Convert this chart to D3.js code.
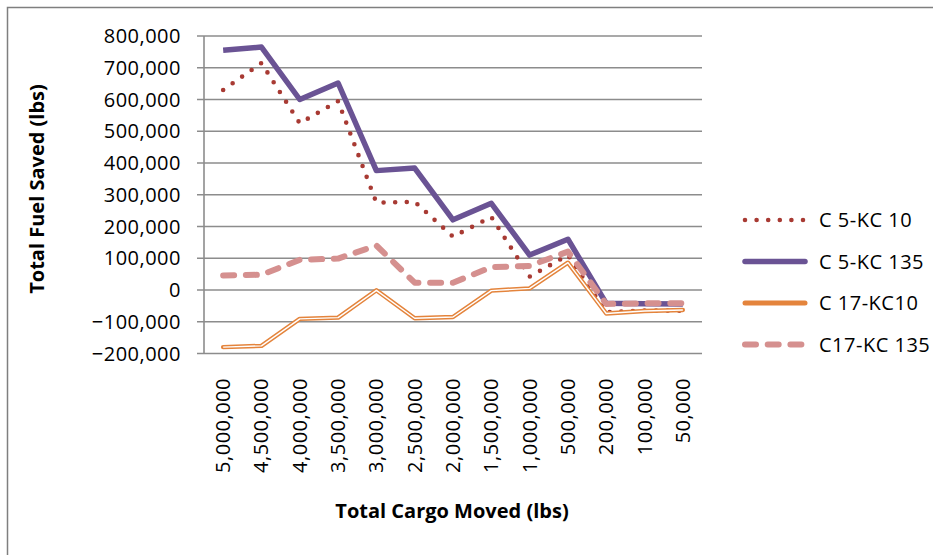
<!DOCTYPE html>
<html lang="en">

<head>
    <meta charset="UTF-8">
    <title>Total Fuel Saved vs Total Cargo Moved</title>
    <style>
        body {
            margin: 0;
            padding: 0;
            background: white;
            font-family: "Open Sans", Arial, sans-serif;
        }

        .tick-label {
            font-size: 20px;
            letter-spacing: 0.5px;
            fill: #000;
        }

        .axis-title {
            font-size: 20px;
            font-weight: 700;
            fill: #000;
        }

        .grid line {
            stroke: #8c8c8c;
            stroke-width: 1.6;
        }
    </style>
</head>

<body>
    <svg id="chart"></svg>

    <script src="https://cdnjs.cloudflare.com/ajax/libs/d3/7.9.0/d3.min.js"></script>
    <script>
        // categories (total cargo moved, lbs)
        const cargo = ['5,000,000', '4,500,000', '4,000,000', '3,500,000', '3,000,000', '2,500,000',
            '2,000,000', '1,500,000', '1,000,000', '500,000', '200,000', '100,000', '50,000'];

        // total fuel saved (lbs) per series
        const c5kc10 = [630000, 715000, 525000, 595000, 275000, 278000, 168000, 230000, 42000, 110000, -70000, -65000, -65000];
        const c5kc135 = [755000, 765000, 600000, 652000, 376000, 384000, 221000, 273000, 110000, 160000, -42000, -43000, -44000];
        const c17kc10 = [-180000, -176000, -91000, -87000, -1000, -89000, -85000, -2000, 5000, 86000, -74000, -66000, -63000];
        const c17kc135 = [46000, 48000, 95000, 99000, 140000, 23000, 23000, 72000, 76000, 121000, -44000, -42000, -42000];

        const seriesNames = ['C 5-KC 10', 'C 5-KC 135', 'C 17-KC10', 'C17-KC 135'];
        const yTicks = [-200000, -100000, 0, 100000, 200000, 300000, 400000, 500000, 600000, 700000, 800000];

        const width = 933;
        const height = 555;
        const margin = { left: 204, right: 231, top: 36, bottom: 201.5 };

        const series = [
            { name: seriesNames[0], values: c5kc10, color: '#a83a33', width: 4.6, dash: '0 11.6', kind: 'dot' },
            { name: seriesNames[1], values: c5kc135, color: '#6a5394', width: 5.5, dash: null, kind: 'solid' },
            { name: seriesNames[2], values: c17kc10, color: '#e4843c', width: 4.4, dash: null, kind: 'double' },
            { name: seriesNames[3], values: c17kc135, color: '#d5908f', width: 6, dash: '11 11.7', kind: 'dash' }
        ];

        const svg = d3.select('#chart')
            .attr('width', width)
            .attr('height', height);

        // outer chart border
        svg.append('rect')
            .attr('x', 7.5).attr('y', 7.5)
            .attr('width', width).attr('height', height)
            .attr('fill', 'white')
            .attr('stroke', '#7f7f7f')
            .attr('stroke-width', 1.5);

        const x = d3.scaleBand()
            .domain(cargo)
            .range([margin.left, width - margin.right]);

        const y = d3.scaleLinear()
            .domain([-200000, 800000])
            .range([height - margin.bottom, margin.top]);

        const fmt = d3.format(',');

        // horizontal gridlines (extend left as tick marks)
        const grid = svg.append('g').attr('class', 'grid');
        grid.selectAll('line')
            .data(yTicks)
            .enter().append('line')
            .attr('x1', margin.left - 7)
            .attr('x2', width - margin.right)
            .attr('y1', d => y(d))
            .attr('y2', d => y(d));

        // vertical axis line
        svg.append('line')
            .attr('x1', margin.left).attr('x2', margin.left)
            .attr('y1', y(800000)).attr('y2', y(-200000))
            .attr('stroke', '#8c8c8c')
            .attr('stroke-width', 1.6);

        // y tick labels
        svg.append('g').selectAll('text')
            .data(yTicks)
            .enter().append('text')
            .attr('class', 'tick-label')
            .attr('x', 181)
            .attr('y', d => y(d))
            .attr('dy', '0.35em')
            .attr('text-anchor', 'end')
            .text(d => fmt(d));

        // x tick labels (rotated)
        svg.append('g').selectAll('text')
            .data(cargo)
            .enter().append('text')
            .attr('class', 'tick-label')
            .attr('transform', d => `translate(${x(d) + x.bandwidth() / 2},378) rotate(-90)`)
            .attr('dy', '0.35em')
            .attr('text-anchor', 'end')
            .text(d => d);

        // axis titles
        svg.append('text')
            .attr('class', 'axis-title')
            .attr('transform', 'translate(37,189) rotate(-90)')
            .attr('dy', '0.35em')
            .attr('text-anchor', 'middle')
            .text('Total Fuel Saved (lbs)');

        svg.append('text')
            .attr('class', 'axis-title')
            .attr('x', 452)
            .attr('y', 511)
            .attr('dy', '0.35em')
            .attr('text-anchor', 'middle')
            .text('Total Cargo Moved (lbs)');

        // series lines
        const line = d3.line()
            .x((d, i) => x(cargo[i]) + x.bandwidth() / 2)
            .y(d => y(d));

        series.forEach(s => {
            const path = svg.append('path')
                .datum(s.values)
                .attr('d', line)
                .attr('fill', 'none')
                .attr('stroke', s.color)
                .attr('stroke-width', s.width)
                .attr('stroke-linejoin', 'round')
                .attr('stroke-linecap', s.kind === 'solid' ? 'butt' : 'round');
            if (s.dash) path.attr('stroke-dasharray', s.dash);
            if (s.kind === 'double') {
                // compound line: white core over the orange stroke
                svg.append('path')
                    .datum(s.values)
                    .attr('d', line)
                    .attr('fill', 'none')
                    .attr('stroke', 'white')
                    .attr('stroke-width', 1.4)
                    .attr('stroke-linejoin', 'round');
            }
        });

        // legend
        const legend = svg.append('g').selectAll('g')
            .data(series)
            .enter().append('g')
            .attr('transform', (d, i) => `translate(0,${220 + i * 41.5})`);

        legend.append('line')
            .attr('x1', 745).attr('x2', 805)
            .attr('y1', 0).attr('y2', 0)
            .attr('stroke', d => d.color)
            .attr('stroke-width', d => d.kind === 'double' ? 5 : d.width)
            .attr('stroke-linecap', 'round')
            .attr('stroke-dasharray', d => d.dash);

        legend.append('text')
            .attr('class', 'tick-label')
            .attr('x', 819)
            .attr('y', 0)
            .attr('dy', '0.35em')
            .text(d => d.name);
    </script>
</body>

</html>
